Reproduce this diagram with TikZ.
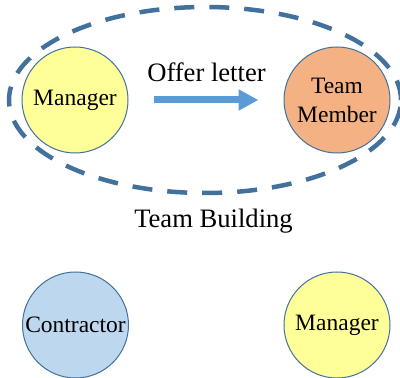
\documentclass[tikz,border=0pt]{standalone}
\usepackage{fontspec}
\setmainfont{Liberation Serif}
\usetikzlibrary{arrows.meta}
\definecolor{edgeblue}{HTML}{41719C}
\definecolor{arrowblue}{HTML}{5B9BD5}
\definecolor{mgrfill}{HTML}{FFFF99}
\definecolor{memberfill}{HTML}{F4B183}
\definecolor{contractfill}{HTML}{BDD7EE}
\begin{document}
\begin{tikzpicture}[x=1pt,y=1pt,
  role/.style={circle, draw=edgeblue, line width=1pt, minimum size=106pt,
    inner sep=0pt, align=center, font=\fontsize{23.5}{29}\selectfont},
  caption/.style={anchor=base, font=\fontsize{26.6}{32}\selectfont},
  groupline/.style={draw=edgeblue, line width=4.5pt, dash pattern=on 20pt off 15pt},
  flow/.style={draw=arrowblue, line width=7pt,
    -{Triangle[length=20pt,width=20pt]}}]
  \useasboundingbox (0,0) rectangle (400,378);

  % team-building group outline
  \path[groupline] (205,278) ellipse [x radius=196, y radius=93];

  % roles
  \node[role, fill=mgrfill] (mgrtop) at (75,278) {Manager};
  \node[role, fill=memberfill] (member) at (337,278) {Team\\Member};
  \node[role, fill=contractfill] (contractor) at (75.5,53) {Contractor};
  \node[role, fill=mgrfill] (mgrbottom) at (337,53) {Manager};

  % offer letter flow
  \draw[flow] ([xshift=25pt]mgrtop.east) -- ([xshift=-25pt]member.west);

  % labels
  \node[caption] (offer) at (206.5,296) {Offer letter};
  \node[caption] (teambuilding) at (213.5,150) {Team Building};
\end{tikzpicture}
\end{document}
